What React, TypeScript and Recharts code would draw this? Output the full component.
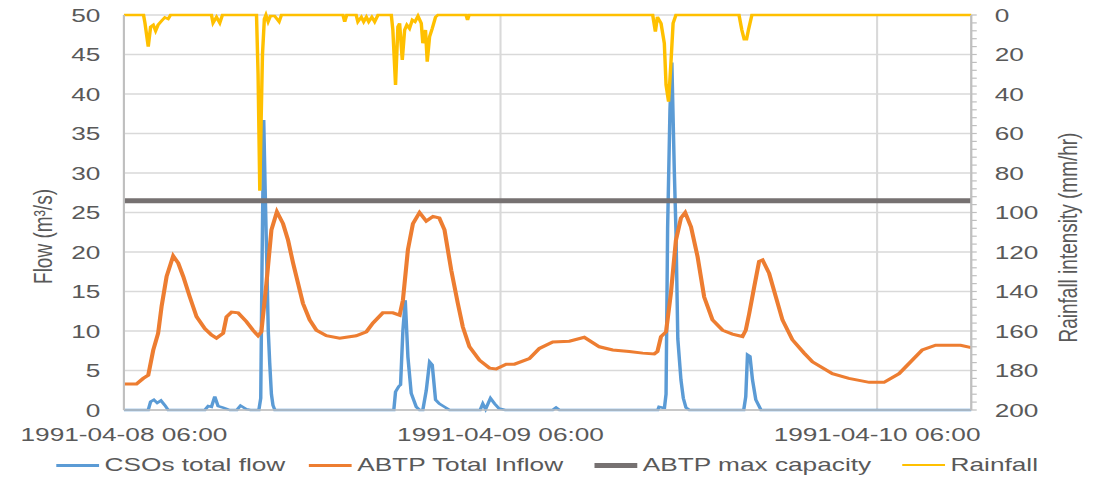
import React from 'react';
import { LineChart, Line, XAxis, YAxis, CartesianGrid } from 'recharts';

// hours after 1991-04-08 06:00
const xTicks = [0, 24, 48];
const xTickLabels = ['1991-04-08 06:00', '1991-04-09 06:00', '1991-04-10 06:00'];
const flowTicks = [0, 5, 10, 15, 20, 25, 30, 35, 40, 45, 50];
const rainTicks = Array.from({ length: 51 }, (_, i) => i * 4);

const csoHours = [
  0, 1.55, 1.7, 1.91, 2.12, 2.36, 2.61, 2.82, 5.16, 5.37, 5.58, 5.79, 6.0, 6.32, 6.75, 7.2, 7.43, 7.8, 8.06,
  8.6, 8.72, 8.8, 8.91, 9.0, 9.08, 9.2, 9.29, 9.4, 9.5, 9.62,
  17.2, 17.31, 17.52, 17.63, 17.78, 17.93, 18.1, 18.31, 18.63, 18.84, 19.05, 19.27, 19.48, 19.65, 19.86, 20.1, 20.43, 20.75,
  22.7, 22.87, 23.05, 23.36, 23.62, 23.9, 24.3, 27.33, 27.54, 27.75,
  34.02, 34.1, 34.33, 34.45, 34.55, 34.65, 34.8, 34.92, 35.08, 35.18, 35.3, 35.5, 35.65, 35.82, 36.03,
  39.5, 39.63, 39.74, 39.9, 40.06, 40.27, 40.6, 54,
];
const csoFlow = [
  0, 0, 1.05, 1.3, 0.9, 1.2, 0.6, 0, 0, 0.5, 0.4, 1.7, 0.5, 0.3, 0, 0, 0.55, 0.1, 0,
  0, 1.5, 18, 36.7, 28, 21, 10, 6, 2, 0.6, 0,
  0, 2.3, 3.0, 3.2, 10.1, 13.9, 6.7, 2.1, 0.4, 0, 0, 2.5, 6.1, 5.7, 1.3, 0.8, 0.4, 0,
  0, 0.8, 0.1, 1.5, 0.8, 0.2, 0, 0, 0.3, 0,
  0, 0.4, 0.3, 0.3, 2, 23, 38, 44, 30, 22.8, 9, 3.8, 1.5, 0.3, 0,
  0, 1.7, 7.0, 6.8, 3.8, 1.3, 0, 0,
];

const inflowHours = [
  0, 0.8, 1.23, 1.55, 1.87, 2.18, 2.4, 2.72, 3.14, 3.46, 3.78, 4.2, 4.63, 5.16, 5.58, 5.9, 6.32, 6.54, 6.86, 7.28,
  7.8, 8.23, 8.55, 8.76, 9.08, 9.4, 9.75, 10.14, 10.46, 10.78, 11.1, 11.41, 11.84, 12.27, 12.9, 13.75, 14.8, 15.45,
  15.87, 16.5, 17.14, 17.57, 17.78, 18.1, 18.42, 18.84, 19.27, 19.7, 20.1, 20.43, 20.86, 21.28, 21.6, 22.02, 22.66,
  23.3, 23.72, 24.36, 24.89, 25.84, 26.48, 27.33, 28.39, 29.34, 30.3, 31.15, 32.2, 33.06, 33.8, 34.0, 34.23, 34.55,
  34.86, 35.18, 35.5, 35.77, 36.14, 36.56, 36.98, 37.51, 38.15, 38.78, 39.42, 39.63, 39.85, 40.17, 40.48, 40.7,
  41.12, 41.55, 41.97, 42.6, 43.35, 43.88, 45.15, 46.2, 47.5, 48.44, 49.4, 50.88, 51.73, 53.32, 54,
];
const inflowFlow = [
  3.3, 3.3, 4.0, 4.4, 7.6, 9.7, 13.1, 16.9, 19.5, 18.6, 16.9, 14.3, 11.8, 10.3, 9.5, 9.1, 9.7, 11.8, 12.4, 12.3,
  11.2, 10.1, 9.4, 9.9, 16.0, 22.8, 25.1, 23.6, 21.5, 18.6, 16.0, 13.5, 11.4, 10.1, 9.4, 9.1, 9.4, 9.9,
  11.0, 12.3, 12.3, 12.0, 13.9, 20.3, 23.6, 25.0, 23.9, 24.5, 24.3, 22.8, 17.7, 13.5, 10.5, 8.0, 6.3,
  5.3, 5.2, 5.8, 5.8, 6.5, 7.8, 8.6, 8.7, 9.2, 8.0, 7.6, 7.4, 7.2, 7.1, 7.4, 9.3, 9.9,
  14.8, 21.5, 24.3, 25.0, 23.2, 19.4, 14.3, 11.4, 10.1, 9.6, 9.3, 10.1, 12.2, 15.6, 18.8, 19.0,
  17.3, 14.3, 11.4, 8.9, 7.2, 6.1, 4.6, 4.0, 3.5, 3.5, 4.6, 7.6, 8.2, 8.2, 7.9,
];

const maxCapacity = 26.5;

const rainHours = [
  0, 1.25, 1.34, 1.55, 1.7, 1.87, 2.02, 2.18, 2.4, 2.61, 2.82, 2.97,
  5.58, 5.68, 5.9, 6.11, 6.28,
  8.45, 8.55, 8.66, 8.74, 8.83, 8.95, 9.05, 9.19, 9.34, 9.6, 9.89, 10.04,
  13.96, 14.07, 14.2, 14.8, 14.91, 15.13, 15.28, 15.45, 15.6, 15.8, 15.98, 16.19,
  17.04, 17.14, 17.31, 17.46, 17.57, 17.74, 17.89, 18.03, 18.2, 18.38, 18.55, 18.74, 18.95, 19.05, 19.22, 19.33,
  19.48, 19.65, 19.86, 20.01, 21.8, 21.9, 22.0,
  33.7, 33.87, 34.0, 34.23, 34.44, 34.55, 34.71, 34.86, 35.0, 35.18,
  39.2, 39.38, 39.53, 39.68, 39.8, 40.02, 54,
];
const rainIntensity = [
  0, 0, 4, 16, 6, 5, 8, 5, 3, 1.2, 2, 0,
  0, 4, 1, 4, 0,
  0, 30, 89, 55, 20, 2, 0, 3.4, 0.5, 0.5, 3.4, 0,
  0, 3.4, 0, 0, 3.4, 1, 3.4, 1, 3.4, 1, 3.4, 0,
  0, 7.6, 35.4, 6, 4.2, 22.8, 7.6, 5, 6.8, 2.5, 3.4, 0.5, 4.2, 14.3, 7.6, 23.6,
  11, 6.8, 1, 0, 0, 2.5, 0,
  0, 8.4, 1, 4.2, 14.3, 35.4, 43.9, 24.5, 4.2, 0,
  0, 7.6, 12.3, 12.3, 7.6, 0, 0,
];

const toPoints = (hs: number[], vs: number[]) => hs.map((h, i) => ({ h, v: vs[i] }));
const csoData = toPoints(csoHours, csoFlow);
const inflowData = toPoints(inflowHours, inflowFlow);
const capacityData = toPoints([0, 54], [maxCapacity, maxCapacity]);
const rainData = toPoints(rainHours, rainIntensity);

const SX = 1.38; // the source picture is stretched horizontally
const W = 792;
const H = 477;
const textColor = '#595959';
const font = '"Liberation Sans", Arial, sans-serif';

const legendItems = [
  { name: 'CSOs total flow', color: '#5B9BD5', thick: 3, left: 35 },
  { name: 'ABTP Total Inflow', color: '#ED7D31', thick: 3, left: 218 },
  { name: 'ABTP max capacity', color: '#767171', thick: 5, left: 425 },
  { name: 'Rainfall', color: '#FFC000', thick: 2.5, left: 648 },
];

const tickStyle = { fill: textColor, fontSize: 19 };

export default function App() {
  return (
    <div style={{ width: 1094, height: H, overflow: 'hidden', marginTop: -8 }}>
      <div style={{ width: W, height: H, transform: `scaleX(${SX})`, transformOrigin: '0 0', position: 'relative', fontFamily: font }}>
        <LineChart width={W} height={H} margin={{ top: 15, right: 0, bottom: 37, left: 0 }}>
          <CartesianGrid yAxisId="left" stroke="#D9D9D9" strokeWidth={1.5} />
          <XAxis
            dataKey="h"
            type="number"
            domain={[0, 54]}
            ticks={xTicks}
            interval={0}
            tickFormatter={(v) => xTickLabels[xTicks.indexOf(v)] ?? ''}
            tick={tickStyle}
            tickSize={0}
            tickMargin={17.5}
            axisLine={{ stroke: '#BFBFBF', strokeWidth: 1.5 }}
            height={30}
          />
          <YAxis
            yAxisId="left"
            domain={[0, 50]}
            ticks={flowTicks}
            interval={0}
            width={84}
            tick={tickStyle}
            tickSize={0}
            tickMargin={17}
            axisLine={{ stroke: '#BFBFBF', strokeWidth: 1.5 }}
            label={() => (
              <text x={25.4} y={236.5} transform="rotate(-90 25.4 236.5)" textAnchor="middle" dominantBaseline="central" fill={textColor} fontSize={19}>
                Flow (m³/s)
              </text>
            )}
          />
          <YAxis
            yAxisId="right"
            orientation="right"
            reversed
            domain={[0, 200]}
            ticks={rainTicks}
            interval={0}
            width={94}
            tick={tickStyle}
            tickFormatter={(v) => (v % 20 === 0 ? String(v) : '')}
            tickSize={4}
            tickMargin={13}
            tickLine={{ stroke: '#BFBFBF', strokeWidth: 1.2 }}
            axisLine={{ stroke: '#BFBFBF', strokeWidth: 1.5 }}
            label={() => (
              <text x={767.8} y={237.5} transform="rotate(-90 767.8 237.5)" textAnchor="middle" dominantBaseline="central" fill={textColor} fontSize={19}>
                Rainfall intensity (mm/hr)
              </text>
            )}
          />
          <Line data={csoData} dataKey="v" yAxisId="left" stroke="#5B9BD5" strokeWidth={2.5} dot={false} isAnimationActive={false} />
          <Line data={inflowData} dataKey="v" yAxisId="left" stroke="#ED7D31" strokeWidth={3} dot={false} isAnimationActive={false} />
          <Line data={capacityData} dataKey="v" yAxisId="left" stroke="#767171" strokeWidth={5} dot={false} isAnimationActive={false} />
          <Line data={rainData} dataKey="v" yAxisId="right" stroke="#FFC000" strokeWidth={2.5} dot={false} isAnimationActive={false} />
        </LineChart>
        {legendItems.map((it) => (
          <div key={it.name} style={{ position: 'absolute', left: it.left, top: 453, display: 'flex', alignItems: 'center' }}>
            <div style={{ width: 31, height: it.thick, background: it.color, marginRight: 4 }} />
            <span style={{ fontSize: 19, color: textColor, lineHeight: '24px', whiteSpace: 'nowrap' }}>{it.name}</span>
          </div>
        ))}
      </div>
    </div>
  );
}
